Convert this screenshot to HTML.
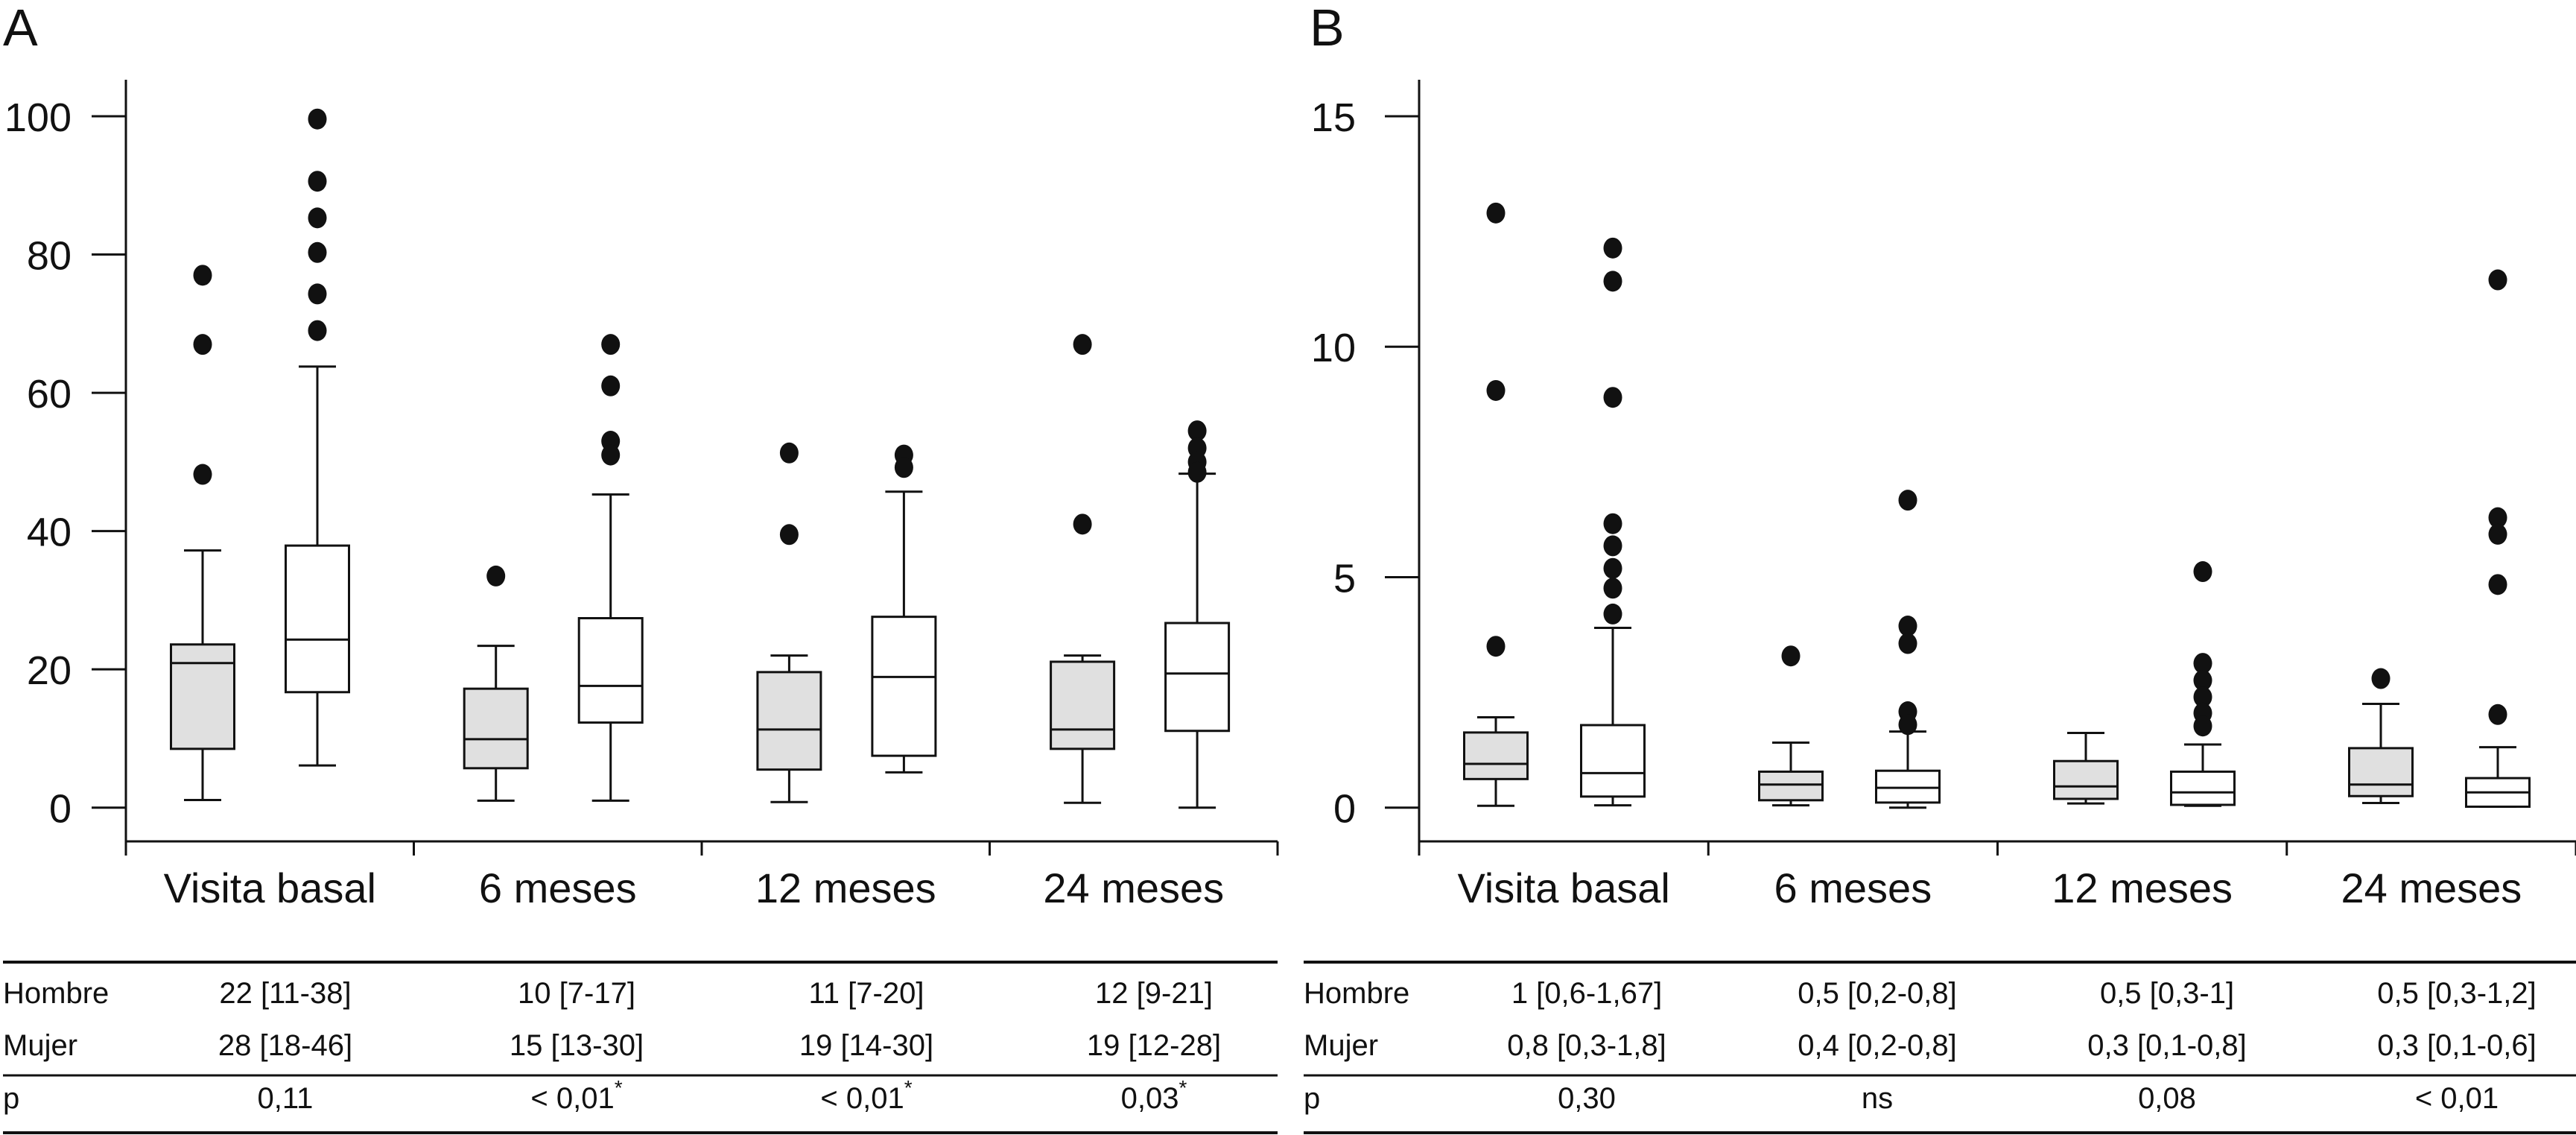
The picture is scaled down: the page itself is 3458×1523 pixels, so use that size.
<!DOCTYPE html>
<html><head><meta charset="utf-8"><style>
html,body{margin:0;padding:0;background:#fff}
svg{display:block}
text{font-family:"Liberation Sans",sans-serif;fill:#111}
</style></head><body>
<svg id="chart" xmlns="http://www.w3.org/2000/svg" width="3458" height="1523" viewBox="0 0 3458 1523">
<text x="4" y="61" font-size="70">A</text>
<text x="1758" y="61" font-size="70">B</text>
<g id="gA"></g>
<g id="gB"></g>
<g id="tA"></g>
<g id="tB"></g>
</svg>
<script>
const categories=["Visita basal","6 meses","12 meses","24 meses"];
// Panel A: [low, q1, median, q3, high]
const aHombre=[[1.1,8.5,20.9,23.6,37.2],[1,5.7,9.9,17.2,23.4],[0.8,5.5,11.3,19.6,22],[0.7,8.5,11.3,21.1,22]];
const aMujer=[[6.1,16.7,24.3,37.9,63.8],[1,12.3,17.6,27.4,45.3],[5.1,7.5,18.9,27.6,45.7],[0,11.1,19.4,26.7,48.3]];
const aHombreOut=[[77,67,48.2],[33.5],[51.3,39.5],[67,41]];
const aMujerOut=[[99.6,90.6,85.3,80.3,74.3,69],[67,61,53,51],[51,49.2],[54.5,52,50,48.5]];
const aTicks=[0,20,40,60,80,100];
// Panel B
const bHombre=[[0.04,0.62,0.95,1.63,1.96],[0.05,0.16,0.5,0.78,1.41],[0.09,0.19,0.46,1.01,1.62],[0.1,0.25,0.5,1.29,2.25]];
const bMujer=[[0.05,0.24,0.75,1.79,3.9],[0,0.11,0.43,0.8,1.65],[0.04,0.06,0.33,0.78,1.37],[0.02,0.02,0.33,0.64,1.31]];
const bHombreOut=[[12.9,9.05,3.5],[3.29],[],[2.8]];
const bMujerOut=[[12.14,11.42,8.9,6.16,5.68,5.19,4.76,4.2],[6.67,3.94,3.56,2.08,1.8],[5.12,3.13,2.76,2.4,2.05,1.77],[11.45,6.29,5.93,4.84,2.02]];
const bTicks=[0,5,10,15];
// Tables
const aRowH=["22 [11-38]","10 [7-17]","11 [7-20]","12 [9-21]"];
const aRowM=["28 [18-46]","15 [13-30]","19 [14-30]","19 [12-28]"];
const aRowP=["0,11","< 0,01","< 0,01","0,03"];
const aStar=[false,true,true,true];
const bRowH=["1 [0,6-1,67]","0,5 [0,2-0,8]","0,5 [0,3-1]","0,5 [0,3-1,2]"];
const bRowM=["0,8 [0,3-1,8]","0,4 [0,2-0,8]","0,3 [0,1-0,8]","0,3 [0,1-0,6]"];
const bRowP=["0,30","ns","0,08","< 0,01"];
const bStar=[false,false,false,false];

const NS="http://www.w3.org/2000/svg";
function mk(p,tag,at){const e=document.createElementNS(NS,tag);for(const k in at)e.setAttribute(k,at[k]);p.appendChild(e);return e;}

function panel(g,cfg){
  const y=v=>1083.7-(v-0)*cfg.ppu;
  const L=cfg.axisX, R=cfg.axisR;
  let e=mk(g,'line',{x1:L,y1:107,x2:L,y2:1129,stroke:'#111','stroke-width':3});
  
  
  e=mk(g,'line',{x1:L,y1:1129,x2:R,y2:1129,stroke:'#111','stroke-width':3});
  
  
  cfg.ticks.forEach(t=>{
    const l=mk(g,'line',{x1:L-46,y1:y(t),x2:L,y2:y(t),stroke:'#111','stroke-width':3});
    
    
    const tx=mk(g,'text',{x:cfg.labR,y:y(t)+20,'font-size':54,'text-anchor':'end'});
    tx.textContent=t;
    
    
  });
  const cw=(R-L)/4;
  for(let i=0;i<=4;i++){
    const l=mk(g,'line',{x1:L+i*cw,y1:1129,x2:L+i*cw,y2:1148,stroke:'#111','stroke-width':3});
    
    
  }
  categories.forEach((c,i)=>{
    const tx=mk(g,'text',{x:L+(i+0.5)*cw,y:1211,'font-size':56,'text-anchor':'middle'});
    tx.textContent=c;
    
    
    [[cfg.h,cfg.ho,'#e0e0e0',cfg.h0,'hombre'],[cfg.m,cfg.mo,'#fff',cfg.h0+cfg.gap,'mujer']].forEach(([s,o,fill,x0,nm])=>{
      const cx=x0+i*cfg.step, w=85, d=s[i];
      const bg=mk(g,'g',{});
      
      
      mk(bg,'line',{x1:cx,y1:y(d[0]),x2:cx,y2:y(d[4]),stroke:'#111','stroke-width':3});
      mk(bg,'line',{x1:cx-25,y1:y(d[0]),x2:cx+25,y2:y(d[0]),stroke:'#111','stroke-width':3});
      mk(bg,'line',{x1:cx-25,y1:y(d[4]),x2:cx+25,y2:y(d[4]),stroke:'#111','stroke-width':3});
      mk(bg,'rect',{x:cx-w/2,y:y(d[3]),width:w,height:y(d[1])-y(d[3]),fill:fill,stroke:'#111','stroke-width':3});
      mk(bg,'line',{x1:cx-w/2,y1:y(d[2]),x2:cx+w/2,y2:y(d[2]),stroke:'#111','stroke-width':3});
      o[i].forEach(v=>{
        const p=mk(g,'ellipse',{cx:cx,cy:y(v),rx:12.5,ry:14,fill:'#111'});
        
        
      });
    });
  });
}
panel(document.getElementById('gA'),{ppu:9.277,axisX:169,axisR:1715,labR:96,ticks:aTicks,h:aHombre,m:aMujer,ho:aHombreOut,mo:aMujerOut,h0:272,gap:154,step:393.7});
panel(document.getElementById('gB'),{ppu:61.85,axisX:1905,axisR:3458,labR:1820,ticks:bTicks,h:bHombre,m:bMujer,ho:bHombreOut,mo:bMujerOut,h0:2008,gap:157,step:396});

function table(g,x0,x1,cx,rh,rm,rp,st){
  [[1291,4],[1443,3],[1520,4]].forEach(([yy,sw])=>{
    const l=mk(g,'line',{x1:x0,y1:yy,x2:x1,y2:yy,stroke:'#111','stroke-width':sw});
    
    
  });
  [["Hombre",1346,rh],["Mujer",1416,rm],["p",1487,rp]].forEach(([lab,by,vals],r)=>{
    const t=mk(g,'text',{x:x0,y:by,'font-size':40});
    t.textContent=lab;
    
    
    vals.forEach((v,i)=>{
      const tt=mk(g,'text',{x:cx[i],y:by,'font-size':40,'text-anchor':'middle'});
      tt.textContent=v;
      if(r===2&&st[i]){const ts=mk(tt,'tspan',{dy:-18,'font-size':28});ts.textContent='*';}
      
      
    });
  });
}
table(document.getElementById('tA'),4,1715,[383,774,1163,1549],aRowH,aRowM,aRowP,aStar);
table(document.getElementById('tB'),1750,3458,[2130,2520,2909,3298],bRowH,bRowM,bRowP,bStar);
</script>
</body></html>
